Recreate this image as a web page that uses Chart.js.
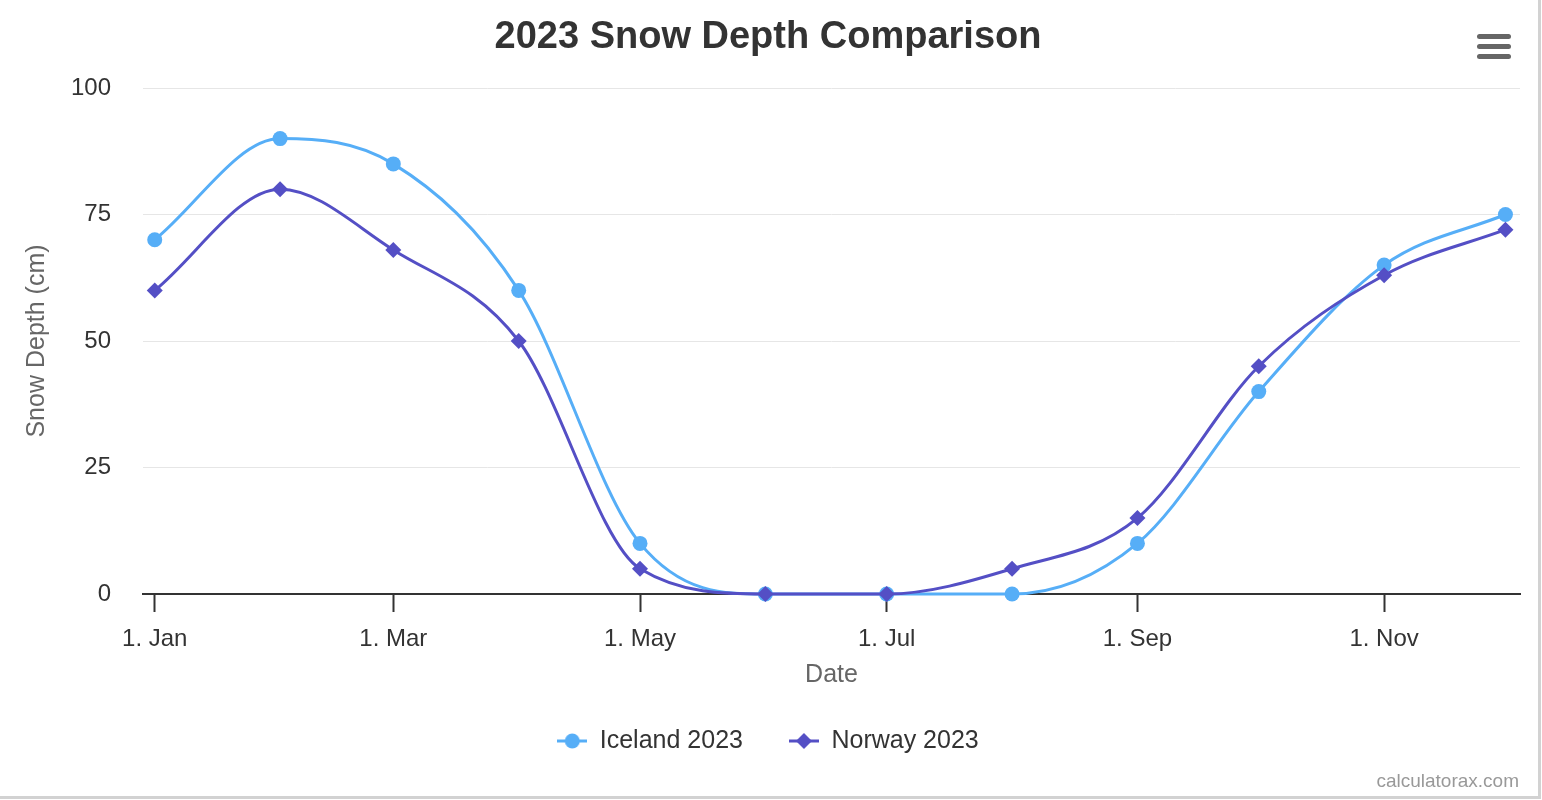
<!DOCTYPE html>
<html>
<head>
<meta charset="utf-8">
<title>2023 Snow Depth Comparison</title>
<script src="https://cdn.jsdelivr.net/npm/chart.js@4.4.1/dist/chart.umd.min.js"></script>
<style>
    html, body { margin: 0; padding: 0; background: #fff; }
    #wrap { position: relative; width: 1542px; height: 800px; }
    #edge {
        position: absolute; left: 0; top: 0; width: 1538px; height: 796px;
        border-right: 3px solid #d2d2d2; border-bottom: 3px solid #d2d2d2;
        pointer-events: none;
    }
</style>
</head>
<body>
<div id="wrap">
    <canvas id="snow-chart" width="1542" height="800"></canvas>
    <div id="edge"></div>
</div>
<script>
// data points are on the 1st of each month, x = days since 1 Jan 2023
const monthDays = [0, 31, 59, 90, 120, 151, 181, 212, 243, 273, 304, 334];
const icelandDepth = [70, 90, 85, 60, 10, 0, 0, 0, 10, 40, 65, 75];
const norwayDepth = [60, 80, 68, 50, 5, 0, 0, 5, 15, 45, 63, 72];

const xTickDays = [0, 59, 120, 181, 243, 304];
const xTickLabels = ["1. Jan", "1. Mar", "1. May", "1. Jul", "1. Sep", "1. Nov"];
const yTickStep = 25;

const icelandColor = "#56aef7";
const norwayColor = "#544fc5";

document.addEventListener("DOMContentLoaded", () => {
    Chart.defaults.font.family = '"Liberation Sans", Arial, Helvetica, sans-serif';
    Chart.defaults.color = "#333333";

    // legend symbol: short line with the marker in the middle
    function legendSymbol(color, diamond) {
        const c = document.createElement("canvas");
        c.width = 30;
        c.height = 18;
        const g = c.getContext("2d");
        g.strokeStyle = color;
        g.fillStyle = color;
        g.lineWidth = 3;
        g.beginPath();
        g.moveTo(0, 9);
        g.lineTo(30, 9);
        g.stroke();
        g.beginPath();
        if (diamond) {
            g.moveTo(15, 1); g.lineTo(23, 9); g.lineTo(15, 17); g.lineTo(7, 9);
            g.closePath();
        } else {
            g.arc(15, 9, 7.5, 0, Math.PI * 2);
        }
        g.fill();
        return c;
    }
    const legendIcons = [legendSymbol(icelandColor, false), legendSymbol(norwayColor, true)];

    // hamburger menu + credits text
    const extras = {
        id: "extras",
        afterDraw(chart) {
            const ctx = chart.ctx;
            ctx.save();
            ctx.strokeStyle = "#666666";
            ctx.lineWidth = 5;
            ctx.lineCap = "round";
            [36.5, 46.5, 56.5].forEach(y => {
                ctx.beginPath();
                ctx.moveTo(1479.5, y);
                ctx.lineTo(1508.5, y);
                ctx.stroke();
            });
            ctx.fillStyle = "#999999";
            ctx.font = '19px "Liberation Sans", Arial, sans-serif';
            ctx.textAlign = "right";
            ctx.textBaseline = "alphabetic";
            ctx.fillText("calculatorax.com", 1519, 787);
            ctx.restore();
        }
    };

    const ctx = document.getElementById("snow-chart").getContext("2d");
    new Chart(ctx, {
        type: "line",
        data: {
            datasets: [
                {
                    label: "Iceland 2023",
                    data: monthDays.map((d, i) => ({ x: d, y: icelandDepth[i] })),
                    borderColor: icelandColor,
                    backgroundColor: icelandColor,
                    borderWidth: 3,
                    pointStyle: "circle",
                    pointRadius: 7.5,
                    pointBorderWidth: 0,
                    cubicInterpolationMode: "monotone",
                    clip: false,
                    order: 1
                },
                {
                    label: "Norway 2023",
                    data: monthDays.map((d, i) => ({ x: d, y: norwayDepth[i] })),
                    borderColor: norwayColor,
                    backgroundColor: norwayColor,
                    borderWidth: 3,
                    pointStyle: "rectRot",
                    pointRadius: 8,
                    pointBorderWidth: 0,
                    cubicInterpolationMode: "monotone",
                    clip: false,
                    order: 0
                }
            ]
        },
        options: {
            responsive: false,
            animation: false,
            devicePixelRatio: 1,
            events: [],
            layout: { padding: { left: 0, right: 6, top: 0, bottom: 36.5 } },
            scales: {
                x: {
                    type: "linear",
                    min: -2.9,
                    max: 337.6,
                    afterBuildTicks: scale => {
                        scale.ticks = xTickDays.map(v => ({ value: v }));
                    },
                    afterFit: scale => { scale.height = 88.5; },
                    ticks: {
                        autoSkip: false,
                        maxRotation: 0,
                        padding: 13,
                        font: { size: 24 },
                        color: "#333333",
                        callback: value => xTickLabels[xTickDays.indexOf(value)]
                    },
                    grid: {
                        drawOnChartArea: false,
                        drawTicks: true,
                        tickLength: 18,
                        tickWidth: 2,
                        tickColor: "#333333"
                    },
                    border: { display: true, color: "#333333", width: 2 },
                    title: {
                        display: true,
                        text: "Date",
                        color: "#666666",
                        font: { size: 25, lineHeight: 1.2 },
                        padding: { top: 0, bottom: -7.5 }
                    }
                },
                y: {
                    min: 0,
                    max: 100,
                    afterFit: scale => { scale.width = 143; },
                    ticks: {
                        stepSize: yTickStep,
                        padding: 32,
                        font: { size: 24 },
                        color: "#333333"
                    },
                    grid: { color: "#e6e6e6", lineWidth: 1, drawTicks: false },
                    border: { display: false },
                    title: {
                        display: true,
                        text: "Snow Depth (cm)",
                        color: "#666666",
                        font: { size: 25, lineHeight: 1.2 },
                        padding: { top: 22, bottom: 0 }
                    }
                },
                spacer: {
                    position: "right",
                    display: true,
                    afterFit: scale => { scale.width = 16; },
                    ticks: { display: false },
                    grid: { display: false },
                    border: { display: false }
                }
            },
            plugins: {
                title: {
                    display: true,
                    text: "2023 Snow Depth Comparison",
                    color: "#333333",
                    font: { size: 38, weight: "bold", lineHeight: 1.2 },
                    padding: { top: 15.2, bottom: 27.2 }
                },
                legend: {
                    position: "bottom",
                    labels: {
                        usePointStyle: true,
                        pointStyleWidth: 30,
                        padding: 46,
                        color: "#333333",
                        font: { size: 25 },
                        generateLabels: chart => {
                            const items = Chart.defaults.plugins.legend.labels.generateLabels(chart);
                            items.forEach(item => { item.pointStyle = legendIcons[item.datasetIndex]; });
                            return items.sort((a, b) => a.datasetIndex - b.datasetIndex);
                        }
                    }
                },
                tooltip: { enabled: false }
            }
        },
        plugins: [extras]
    });
});
</script>
</body>
</html>
